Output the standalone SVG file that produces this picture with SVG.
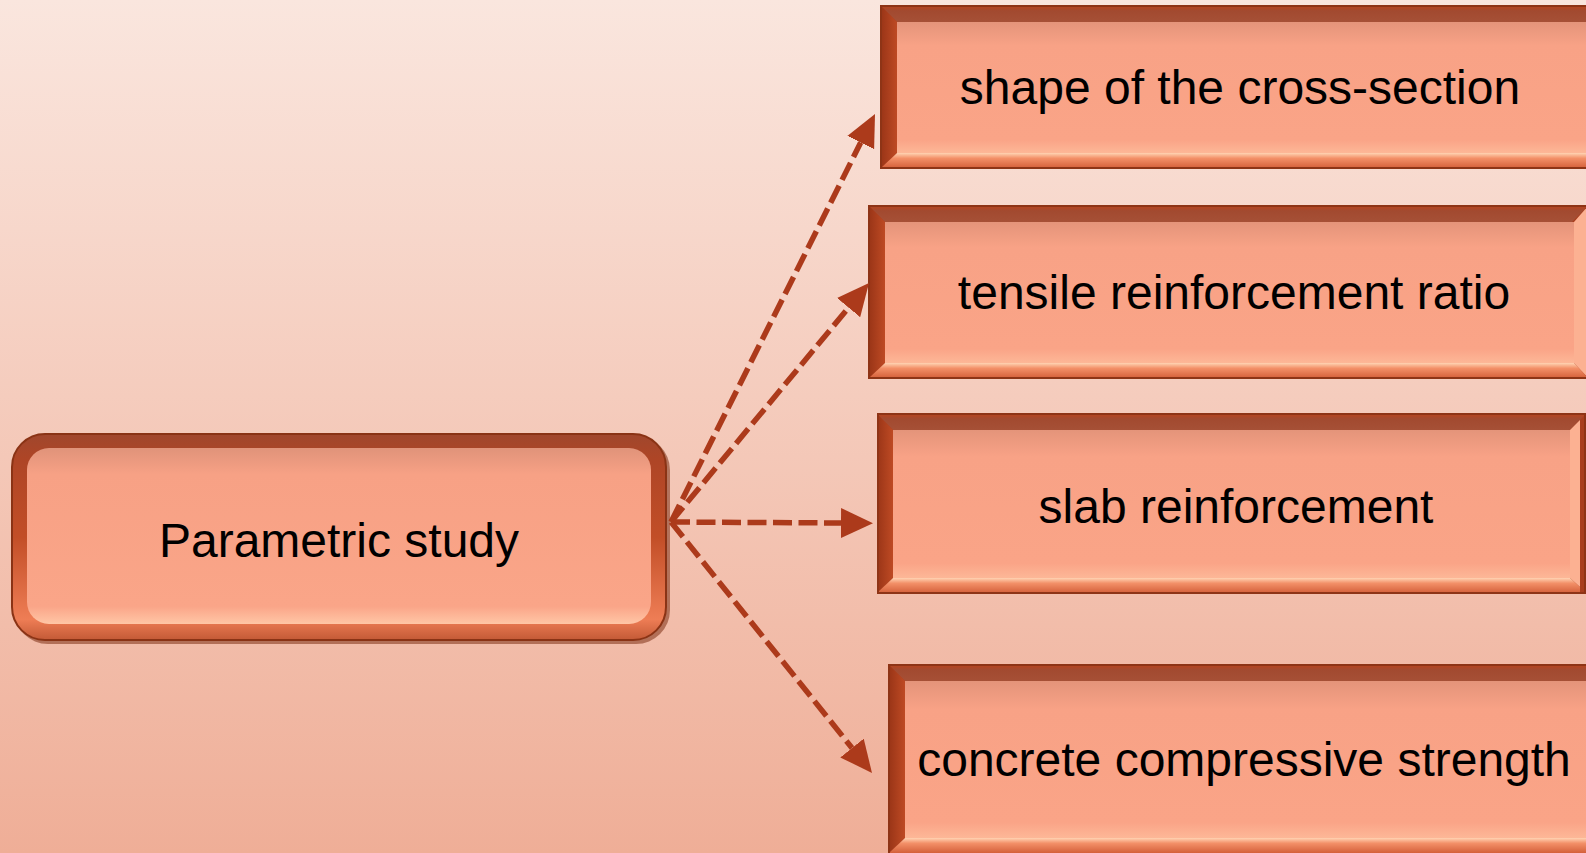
<svg xmlns="http://www.w3.org/2000/svg" width="1586" height="853" viewBox="0 0 1586 853">
<defs>
<linearGradient id="bg" x1="0" y1="0" x2="0" y2="1">
<stop offset="0" stop-color="#FAE6DE"/>
<stop offset="1" stop-color="#EFAE97"/>
</linearGradient>
<linearGradient id="face" x1="0" y1="0" x2="0" y2="1">
<stop offset="0" stop-color="#E4947A"/>
<stop offset="0.18" stop-color="#F8A286"/>
<stop offset="0.9" stop-color="#FAA487"/>
<stop offset="1" stop-color="#FDB797"/>
</linearGradient>
<linearGradient id="top" x1="0" y1="0" x2="0" y2="1">
<stop offset="0" stop-color="#B8441E"/>
<stop offset="0.3" stop-color="#A24A30"/>
<stop offset="1" stop-color="#A65036"/>
</linearGradient>
<linearGradient id="left" x1="0" y1="0" x2="1" y2="0">
<stop offset="0" stop-color="#9A3517"/>
<stop offset="1" stop-color="#BE4A24"/>
</linearGradient>
<linearGradient id="bottom" x1="0" y1="0" x2="0" y2="1">
<stop offset="0" stop-color="#FFD3B3"/>
<stop offset="0.35" stop-color="#F39068"/>
<stop offset="1" stop-color="#D4603A"/>
</linearGradient>
<linearGradient id="rface" x1="0" y1="0" x2="0" y2="1">
<stop offset="0" stop-color="#E0937A"/>
<stop offset="0.15" stop-color="#F7A185"/>
<stop offset="0.9" stop-color="#FAA588"/>
<stop offset="1" stop-color="#FFC6A6"/>
</linearGradient>
<linearGradient id="rrim" x1="0" y1="0" x2="0" y2="1">
<stop offset="0" stop-color="#A0472D"/>
<stop offset="0.12" stop-color="#AE4526"/>
<stop offset="0.5" stop-color="#C24E27"/>
<stop offset="0.9" stop-color="#EE7D55"/>
<stop offset="1" stop-color="#C35A36"/>
</linearGradient>
<marker id="ah" markerUnits="userSpaceOnUse" markerWidth="34" markerHeight="32" refX="0" refY="15" orient="auto">
<path d="M0,0 L32,15 L0,30 z" fill="#AC3A1B"/>
</marker>
<style>
.lbl{font-family:"Liberation Sans",Arial,sans-serif;font-size:48px;fill:#000;text-anchor:middle}
.edge{stroke:#AC3A1B;stroke-width:5.5;stroke-dasharray:19 6.5;fill:none;marker-end:url(#ah)}
.ol{fill:none;stroke:#8E3416;stroke-width:2}
.rb{fill:#FCB192}
</style>
</defs>
<rect width="1586" height="853" fill="url(#bg)"/>

<g id="node-parametric">
<rect x="14" y="436" width="656" height="208" rx="34" fill="#7E3014" opacity="0.55"/>
<rect x="12" y="434" width="654" height="206" rx="33" fill="url(#rrim)" stroke="#8A3315" stroke-width="2"/>
<rect x="27" y="448" width="624" height="176" rx="22" fill="url(#rface)"/>
<text class="lbl" x="339" y="557">Parametric study</text>
</g>

<g id="node-shape">
<rect x="881" y="6" width="719" height="162" fill="#A83E1E"/>
<path d="M881,6 L1600,6 L1600,22 L897,22 z" fill="url(#top)"/>
<path d="M881,6 L897,22 L897,153 L881,168 z" fill="url(#left)"/>
<path d="M897,153 L1600,153 L1600,168 L881,168 z" fill="url(#bottom)"/>
<rect x="897" y="22" width="703" height="131" fill="url(#face)"/>
<rect x="881" y="6" width="719" height="162" class="ol"/>
<text class="lbl" x="1240" y="104">shape of the cross-section</text>
</g>

<g id="node-tensile">
<rect x="869" y="206" width="719" height="172" fill="#A83E1E"/>
<path d="M869,206 L1588,206 L1572,222 L885,222 z" fill="url(#top)"/>
<path d="M869,206 L885,222 L885,363 L869,378 z" fill="url(#left)"/>
<path d="M1588,206 L1588,378 L1574,363 L1574,222 z" class="rb"/>
<path d="M885,363 L1574,363 L1588,378 L869,378 z" fill="url(#bottom)"/>
<rect x="885" y="222" width="689" height="141" fill="url(#face)"/>
<rect x="869" y="206" width="719" height="172" class="ol"/>
<text class="lbl" x="1234" y="309">tensile reinforcement ratio</text>
</g>

<g id="node-slab">
<rect x="877" y="414" width="709" height="179" fill="#A83E1E"/>
<path d="M877,414 L1586,414 L1570,430 L893,430 z" fill="url(#top)"/>
<path d="M877,414 L893,430 L893,578 L877,593 z" fill="url(#left)"/>
<path d="M1580,420 L1580,587 L1570,578 L1570,430 z" class="rb"/>
<path d="M893,578 L1570,578 L1580,587 L1580,593 L877,593 z" fill="url(#bottom)"/>
<rect x="893" y="430" width="677" height="148" fill="url(#face)"/>
<rect x="878" y="414" width="707" height="179" class="ol"/>
<text class="lbl" x="1236" y="523">slab reinforcement</text>
</g>

<g id="node-concrete">
<rect x="889" y="665" width="711" height="190" fill="#A83E1E"/>
<path d="M889,665 L1600,665 L1600,681 L905,681 z" fill="url(#top)"/>
<path d="M889,665 L905,681 L905,838 L889,853 z" fill="url(#left)"/>
<path d="M905,838 L1600,838 L1600,853 L889,853 z" fill="url(#bottom)"/>
<rect x="905" y="681" width="695" height="157" fill="url(#face)"/>
<rect x="889" y="665" width="711" height="190" class="ol"/>
<text class="lbl" x="1244" y="776">concrete compressive strength</text>
</g>

<g id="connectors">
<line class="edge" x1="671" y1="522" x2="860.7" y2="142.6"/>
<line class="edge" x1="671" y1="522" x2="848.6" y2="307.6"/>
<line class="edge" x1="671" y1="522" x2="841" y2="523"/>
<line class="edge" x1="671" y1="522" x2="852" y2="748"/>
</g>
</svg>
